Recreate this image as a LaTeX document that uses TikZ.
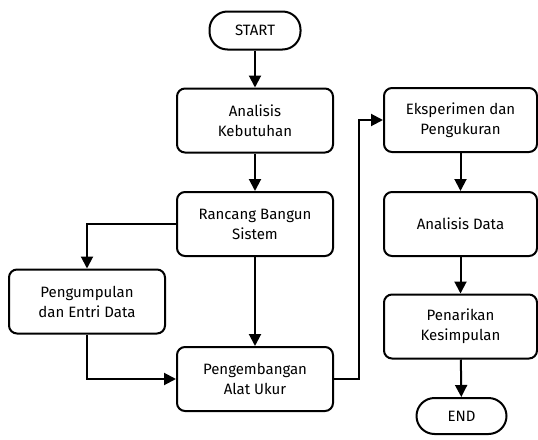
\documentclass[tikz,border=0pt]{standalone}
\usepackage{fontspec}
\setmainfont{Fira Sans}
\usetikzlibrary{arrows.meta}
\begin{document}
\begin{tikzpicture}[x=1pt,y=-1pt,
  box/.style={draw=black, line width=2pt, rounded corners=8pt, minimum width=156pt, minimum height=64pt, align=center, inner sep=0pt, font=\fontsize{15}{20}\selectfont},
  term/.style={draw=black, line width=2pt, rounded corners=18pt, minimum width=91pt, minimum height=38pt, inner sep=0pt, font=\fontsize{15}{20}\selectfont},
  conn/.style={line width=2pt, -{Triangle[length=12pt,width=12pt]}}]
\useasboundingbox (0,0) rectangle (538,439);
\node[term] (start) at (255,30.5) {START};
\node[box] (ak) at (255,120.5) {Analisis\\Kebutuhan};
\node[box] (rb) at (255,224) {Rancang Bangun\\Sistem};
\node[box] (pd) at (87,301.5) {Pengumpulan\\dan Entri Data};
\node[box] (pa) at (255,379) {Pengembangan\\Alat Ukur};
\node[box, minimum width=153pt] (ep) at (460.5,120) {Eksperimen dan\\Pengukuran};
\node[box, minimum width=153pt] (ad) at (460.5,224) {Analisis Data};
\node[box, minimum width=153pt] (pk) at (460.5,326.5) {Penarikan\\Kesimpulan};
\node[term, minimum width=90pt, minimum height=36pt] (end) at (461.5,416) {END};
\coordinate (c1) at (359,379);
\draw[conn] (start) -- (ak);
\draw[conn] (ak) -- (rb);
\draw[conn] (rb) -- (pa);
\draw[conn] (rb.west) -| (pd.north);
\draw[conn] (pd.south) |- (pa.west);
\draw[conn] (pa.east) -- (c1) |- (ep.west);
\draw[conn] (ep) -- (ad);
\draw[conn] (ad) -- (pk);
\draw[conn] (pk) -- (end);
\end{tikzpicture}
\end{document}
